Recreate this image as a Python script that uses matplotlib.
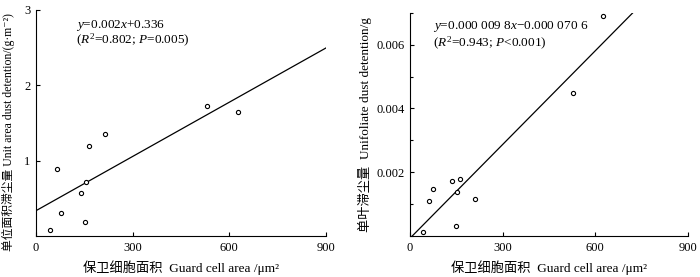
import matplotlib
matplotlib.use("Agg")
import matplotlib.pyplot as plt
import numpy as np
from matplotlib.ticker import MultipleLocator

plt.rcParams["font.family"] = ["Liberation Serif", "Noto Sans CJK SC", "DejaVu Serif"]
plt.rcParams["mathtext.fontset"] = "custom"
plt.rcParams["mathtext.rm"] = "Liberation Serif"
plt.rcParams["mathtext.it"] = "Liberation Serif:italic"
plt.rcParams["font.size"] = 9

# left panel: unit area dust detention
area_a = [43, 64, 78, 140, 155, 153, 164, 213, 531, 626]
dust_a = [0.08, 0.89, 0.30, 0.57, 0.72, 0.18, 1.19, 1.35, 1.73, 1.64]
slope_a, icpt_a = 0.0024, 0.336

# right panel: unifoliate dust detention
area_b = [41, 61, 74, 137, 161, 153, 150, 209, 529, 625]
dust_b = [0.00011, 0.00110, 0.00148, 0.00171, 0.00180, 0.00137, 0.00030, 0.00117, 0.00448, 0.00690]
slope_b, icpt_b = 0.0000098, -0.0000706

fig = plt.figure(figsize=(7, 2.77), dpi=100)
ax1 = fig.add_axes([36/700, 0.148, 290/700, 0.816])
ax2 = fig.add_axes([410/700, 0.148, 278/700, 0.806])

xs = np.array([0, 900])

ax1.plot(xs, slope_a * xs + icpt_a, color="black", lw=0.9)
ax1.scatter(area_a, dust_a, s=9, facecolors="white", edgecolors="black", linewidths=0.8, zorder=3)
ax1.set_xlim(0, 900)
ax1.set_ylim(0, 3)
ax1.set_xticks([0, 300, 600, 900])
ax1.set_yticks([1, 2, 3])
ax1.text(125, 2.80, "$y$=0.002$x$+0.336", va="center", fontsize=9.5)
ax1.text(125, 2.60, "($R^2$=0.802; $P$=0.005)", va="center", fontsize=9.5)
ax1.set_xlabel("保卫细胞面积  Guard cell area /μm²", fontsize=9.5, labelpad=5)
ax1.set_ylabel("单位面积滞尘量 Unit area dust detention/(g·m⁻²)", fontsize=8.5)
ax1.yaxis.set_label_coords(-0.072, 0.46)

ax2.plot(xs, slope_b * xs + icpt_b, color="black", lw=0.9)
ax2.scatter(area_b, dust_b, s=9, facecolors="white", edgecolors="black", linewidths=0.8, zorder=3)
ax2.set_xlim(0, 900)
ax2.set_ylim(0, 0.007)
ax2.set_xticks([0, 300, 600, 900])
ax2.set_yticks([0.002, 0.004, 0.006])
ax2.set_yticklabels(["0.002", "0.004", "0.006"])
ax2.yaxis.set_minor_locator(MultipleLocator(0.001))
ax2.text(73, 0.00657, "$y$=0.000 009 8$x$−0.000 070 6", va="center", fontsize=9.5)
ax2.text(73, 0.00605, "($R^2$=0.943; $P$<0.001)", va="center", fontsize=9.5)
ax2.set_xlabel("保卫细胞面积  Guard cell area /μm²", fontsize=9.5, labelpad=5)
ax2.set_ylabel("单叶滞尘量  Unifoliate dust detention/g", fontsize=9.5, labelpad=3)

for ax in (ax1, ax2):
    ax.spines["top"].set_visible(False)
    ax.spines["right"].set_visible(False)
    ax.tick_params(direction="in", length=3, width=0.8, pad=4)
    ax.tick_params(which="minor", direction="in", length=2, width=0.8)

fig.savefig("out.png", dpi=100)
